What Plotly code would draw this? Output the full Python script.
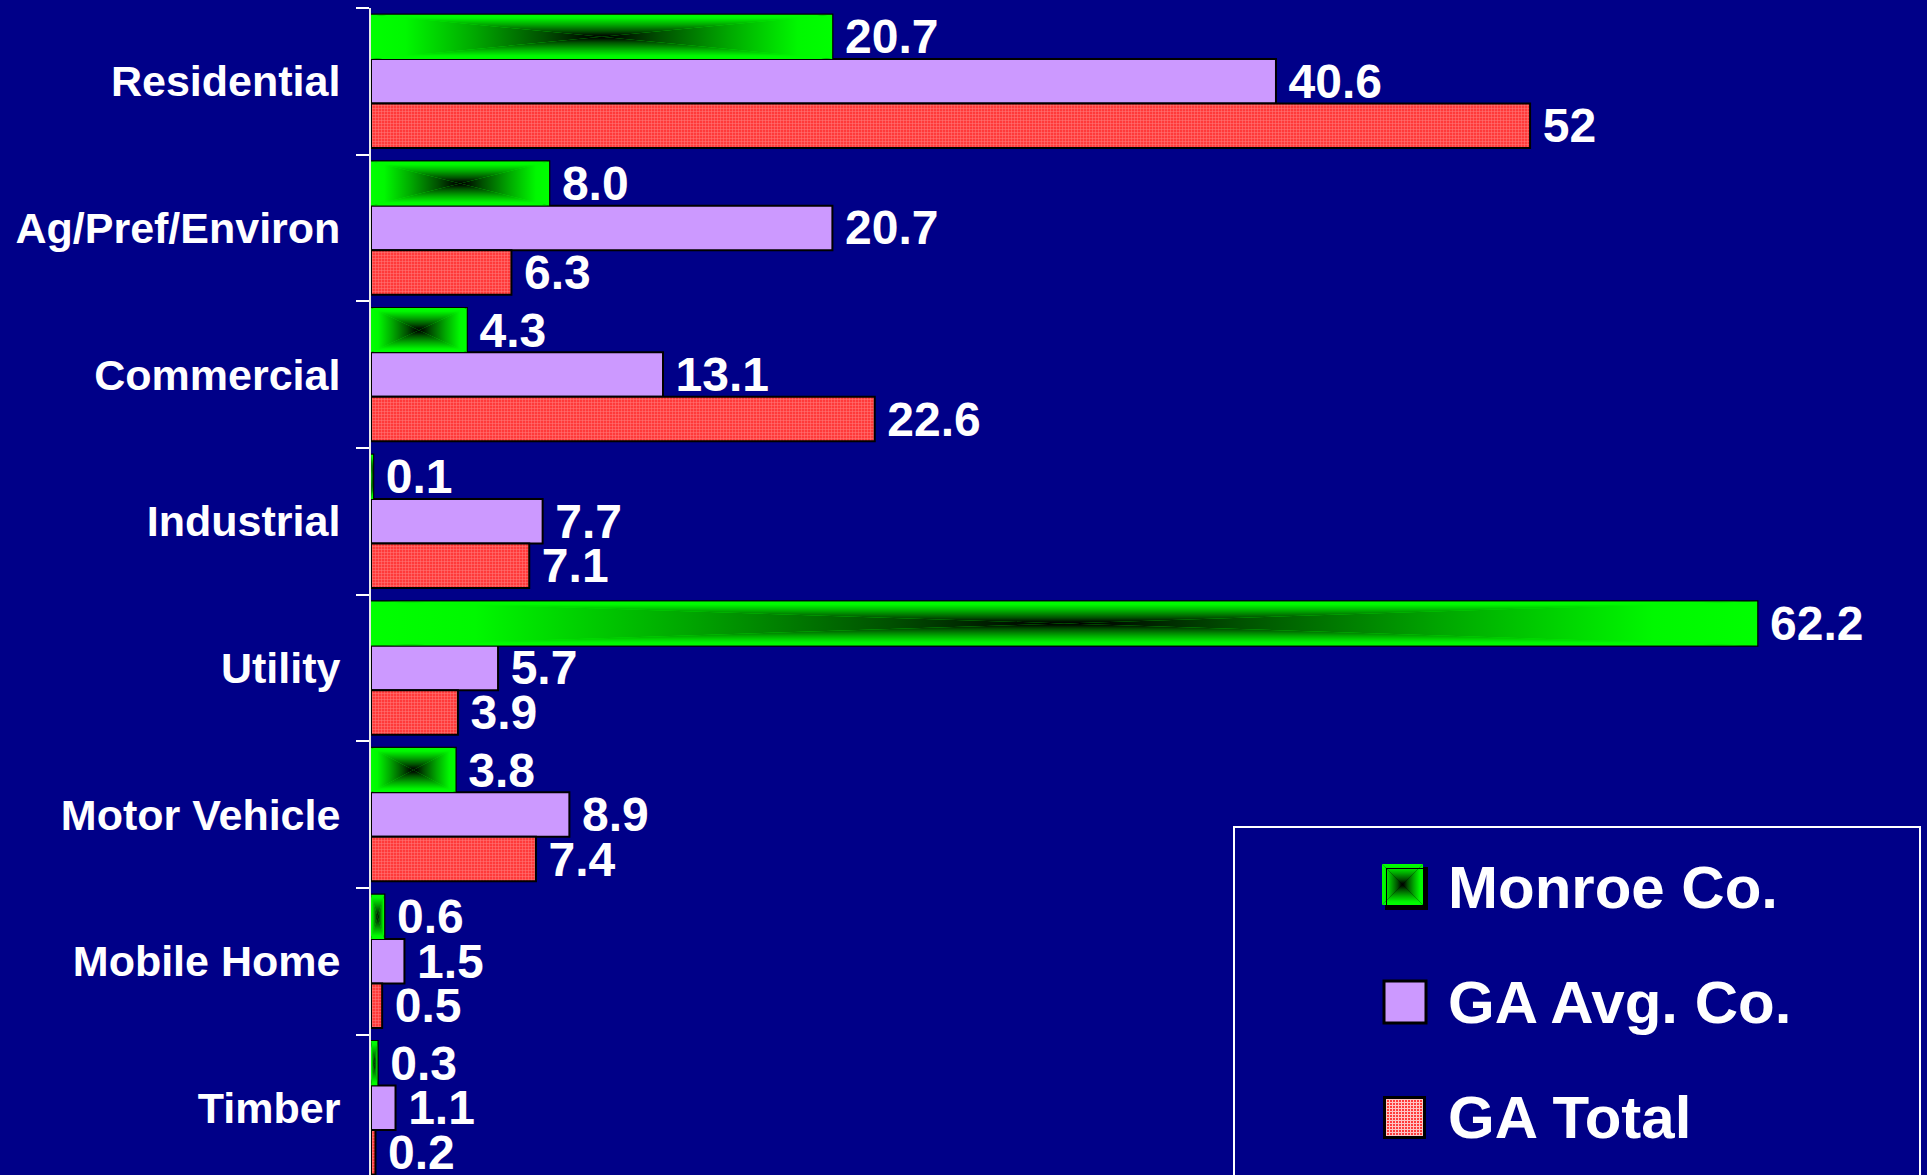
import base64
import plotly.graph_objects as go

categories = ["Residential", "Ag/Pref/Environ", "Commercial", "Industrial",
              "Utility", "Motor Vehicle", "Mobile Home", "Timber"]
monroe = [20.7, 8.0, 4.3, 0.1, 62.2, 3.8, 0.6, 0.3]
ga_avg = [40.6, 20.7, 13.1, 7.7, 5.7, 8.9, 1.5, 1.1]
ga_total = [52, 6.3, 22.6, 7.1, 3.9, 7.4, 0.5, 0.2]
monroe_labels = ["20.7", "8.0", "4.3", "0.1", "62.2", "3.8", "0.6", "0.3"]
ga_avg_labels = ["40.6", "20.7", "13.1", "7.7", "5.7", "8.9", "1.5", "1.1"]
ga_total_labels = ["52", "6.3", "22.6", "7.1", "3.9", "7.4", "0.5", "0.2"]
series_names = ["Monroe Co.", "GA Avg. Co.", "GA Total"]

W, H = 1927, 1175
ML, MT = 371, 8
PW, PH = W - ML, H - MT
BG = "#000088"
FONT = "Liberation Sans, Arial, sans-serif"
NARROW = "Liberation Sans Narrow, Arial Narrow, Liberation Sans, Arial, sans-serif"
XMAX = PW / 22.29
YR = [7.458, -0.5]
BARGAP = 0.09
BW = (1 - BARGAP) / 3


def xp(X):
    return (X - ML) / PW


def yp(Y):
    return (H - Y) / PH


def ydata_to_paper(d):
    return (YR[0] - d) / (YR[0] - YR[1])


def svg_uri(svg):
    return "data:image/svg+xml;base64," + base64.b64encode(svg.encode()).decode()


# rectangular "from centre" gradient built from four triangles
STOPS = ('<stop offset="0" stop-color="#00ff00"/><stop offset="0.15" stop-color="#00f800"/>'
         '<stop offset="0.45" stop-color="#00a800"/><stop offset="0.75" stop-color="#005000"/>'
         '<stop offset="0.92" stop-color="#001200"/><stop offset="1" stop-color="#000000"/>')


def grad_body(w, h, x0=0, y0=0):
    cx, cy = x0 + w / 2, y0 + h / 2
    return (
        '<defs>'
        f'<linearGradient id="t" gradientUnits="userSpaceOnUse" x1="0" y1="{y0}" x2="0" y2="{cy}">' + STOPS + '</linearGradient>'
        f'<linearGradient id="b" gradientUnits="userSpaceOnUse" x1="0" y1="{y0 + h}" x2="0" y2="{cy}">' + STOPS + '</linearGradient>'
        f'<linearGradient id="l" gradientUnits="userSpaceOnUse" x1="{x0}" y1="0" x2="{cx}" y2="0">' + STOPS + '</linearGradient>'
        f'<linearGradient id="r" gradientUnits="userSpaceOnUse" x1="{x0 + w}" y1="0" x2="{cx}" y2="0">' + STOPS + '</linearGradient>'
        '</defs>'
        f'<polygon points="{x0},{y0} {x0 + w},{y0} {cx},{cy}" fill="url(#t)"/>'
        f'<polygon points="{x0},{y0 + h} {x0 + w},{y0 + h} {cx},{cy}" fill="url(#b)"/>'
        f'<polygon points="{x0},{y0} {x0},{y0 + h} {cx},{cy}" fill="url(#l)"/>'
        f'<polygon points="{x0 + w},{y0} {x0 + w},{y0 + h} {cx},{cy}" fill="url(#r)"/>'
    )


GRAD_SVG = svg_uri(
    '<svg xmlns="http://www.w3.org/2000/svg" width="100" height="100" viewBox="0 0 100 100" '
    'preserveAspectRatio="none">' + grad_body(100, 100) + '</svg>'
)
LEG_GREEN_SVG = svg_uri(
    '<svg xmlns="http://www.w3.org/2000/svg" width="46" height="46" viewBox="0 0 46 46">'
    '<rect x="3" y="3" width="43" height="43" fill="#000"/>'
    + grad_body(41, 41, 0, 0) +
    '<rect x="4.5" y="4.5" width="38" height="38" fill="none" stroke="#000" stroke-width="1"/>'
    '</svg>'
)
RED_SVG = svg_uri(
    '<svg xmlns="http://www.w3.org/2000/svg" width="43" height="43" viewBox="0 0 43 43">'
    '<defs><pattern id="p" width="3" height="3" patternUnits="userSpaceOnUse">'
    '<rect width="3" height="3" fill="#ff3a3a"/><path d="M0 0.5H3M0.5 0V3" stroke="#ffc4c4" stroke-width="1"/>'
    '</pattern></defs><rect width="43" height="43" fill="url(#p)"/>'
    '<rect x="1.5" y="1.5" width="40" height="40" fill="none" stroke="#000" stroke-width="3"/></svg>'
)

sp = "\u2009"
VAL_FONT = dict(size=48, color="white", family=FONT, weight="bold")
fig = go.Figure()
fig.add_trace(go.Bar(
    y=categories, x=monroe, orientation="h", name=series_names[0],
    marker=dict(color="#00FF00", line=dict(color="black", width=2)),
    text=[sp + s for s in monroe_labels], textposition="outside",
    textfont=VAL_FONT, constraintext="none", cliponaxis=False, showlegend=False,
))
fig.add_trace(go.Bar(
    y=categories, x=ga_avg, orientation="h", name=series_names[1],
    marker=dict(color="#CC99FF", line=dict(color="black", width=2)),
    text=[sp + s for s in ga_avg_labels], textposition="outside",
    textfont=VAL_FONT, constraintext="none", cliponaxis=False, showlegend=False,
))
fig.add_trace(go.Bar(
    y=categories, x=ga_total, orientation="h", name=series_names[2],
    marker=dict(color="#FF5050", line=dict(color="black", width=2),
                pattern=dict(shape="+", fgcolor="#FFC0C0", bgcolor="#FF3A3A",
                             size=3, solidity=0.3)),
    text=[sp + s for s in ga_total_labels], textposition="outside",
    textfont=VAL_FONT, constraintext="none", cliponaxis=False, showlegend=False,
))

images = []
# gradient fill over the green bars
for i, v in enumerate(monroe):
    top = i - 1.5 * BW
    images.append(dict(
        source=GRAD_SVG, xref="x", yref="paper", x=0, sizex=v,
        y=ydata_to_paper(top), sizey=ydata_to_paper(top) - ydata_to_paper(top + BW),
        xanchor="left", yanchor="top", sizing="stretch", layer="above",
    ))

# custom legend
shapes = [dict(type="rect", xref="paper", yref="paper",
               x0=xp(1234), x1=xp(1920), y0=yp(1190), y1=yp(827),
               line=dict(color="white", width=2), fillcolor="rgba(0,0,0,0)", layer="above")]
sym_y = [(866, 908), (981, 1023), (1096, 1139)]
images.append(dict(source=LEG_GREEN_SVG, xref="paper", yref="paper",
                   x=xp(1382), y=yp(sym_y[0][0] - 2), sizex=xp(1428) - xp(1382),
                   sizey=yp(0) - yp(46),
                   xanchor="left", yanchor="top", sizing="stretch", layer="above"))
shapes.append(dict(type="rect", xref="paper", yref="paper",
                   x0=xp(1384), x1=xp(1426), y0=yp(sym_y[1][1]), y1=yp(sym_y[1][0]),
                   fillcolor="#CC99FF", line=dict(color="black", width=3), layer="above"))
images.append(dict(source=RED_SVG, xref="paper", yref="paper",
                   x=xp(1383), y=yp(sym_y[2][0]), sizex=xp(1426) - xp(1383),
                   sizey=yp(sym_y[2][0]) - yp(sym_y[2][1]),
                   xanchor="left", yanchor="top", sizing="stretch", layer="above"))

annotations = []
for name, (a, b) in zip(series_names, sym_y):
    annotations.append(dict(
        text=name, xref="paper", yref="paper", x=xp(1446), y=yp((a + b) / 2),
        xanchor="left", yanchor="middle", showarrow=False,
        font=dict(size=60, color="white", family=NARROW, weight="bold"),
    ))

fig.update_layout(
    width=W, height=H,
    margin=dict(l=ML, r=0, t=MT, b=0, pad=0),
    paper_bgcolor=BG, plot_bgcolor=BG,
    barmode="group", bargap=BARGAP, bargroupgap=0,
    showlegend=False,
    xaxis=dict(visible=False, range=[0, XMAX]),
    yaxis=dict(type="category", categoryorder="array", categoryarray=categories,
               range=YR, showgrid=False, zeroline=False,
               showline=True, linecolor="#E8E8E8", linewidth=2,
               ticks="outside", tickson="boundaries", ticklen=13,
               tickcolor="white", tickwidth=2, ticklabelstandoff=20,
               tickfont=dict(size=43, color="white", family=FONT, weight="bold")),
    shapes=shapes, images=images, annotations=annotations,
)

fig.write_html(
    "out.html",
    config={"displayModeBar": False},
    post_script="document.body.style.margin='0';document.body.style.overflow='hidden';",
)
